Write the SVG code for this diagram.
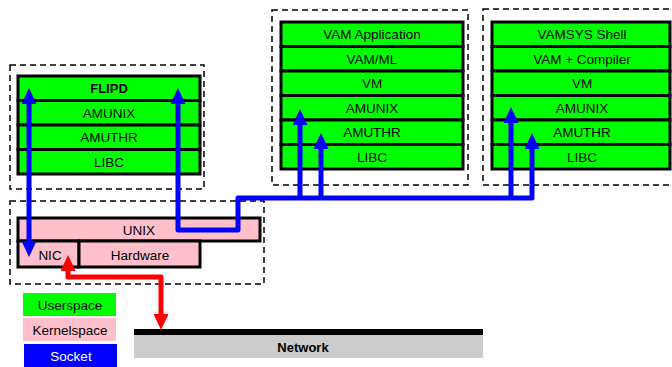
<svg xmlns="http://www.w3.org/2000/svg" width="672" height="367" viewBox="0 0 672 367">
<style>
.dash{fill:none;stroke:#000;stroke-width:1.5;stroke-dasharray:6,4}
.u{fill:#00ff00;stroke:#000;stroke-width:3}
.k{fill:#ffc0cb;stroke:#000;stroke-width:3}
text{font-family:"Liberation Sans",Arial,sans-serif;font-size:13.5px;text-anchor:middle;fill:#000}
.b{font-weight:bold;font-size:13px}
.sock{fill:none;stroke:#0000ff;stroke-width:5;stroke-linejoin:round}
.red{fill:none;stroke:#ff0000;stroke-width:5;stroke-linejoin:round}
</style>
<defs>
<marker id="ab" markerUnits="userSpaceOnUse" markerWidth="16" markerHeight="15" viewBox="0 0 16 15" refX="0" refY="7.5" orient="auto-start-reverse"><path d="M0,0 L16,7.5 L0,15 z" fill="#0000ff"/></marker>
<marker id="ar" markerUnits="userSpaceOnUse" markerWidth="16" markerHeight="15" viewBox="0 0 16 15" refX="0" refY="7.5" orient="auto-start-reverse"><path d="M0,0 L16,7.5 L0,15 z" fill="#ff0000"/></marker>
</defs>
<g id="frames">
<rect class="dash" x="10" y="65" width="194" height="124"/>
<rect class="dash" x="272" y="10" width="196" height="175"/>
<rect class="dash" x="483" y="9" width="200" height="176"/>
<rect class="dash" x="10" y="201" width="254" height="83"/>
</g>
<g id="flipd">
<rect class="u" x="18" y="76" width="182" height="24.5"/><text class="b" x="109" y="93">FLIPD</text>
<rect class="u" x="18" y="100.5" width="182" height="24.5"/><text x="109" y="117.5">AMUNIX</text>
<rect class="u" x="18" y="125" width="182" height="24.5"/><text x="109" y="142">AMUTHR</text>
<rect class="u" x="18" y="149.5" width="182" height="24.5"/><text x="109" y="166.5">LIBC</text>
</g>
<g id="vamapp">
<rect class="u" x="281" y="22" width="182" height="24.5"/><text x="372" y="39">VAM Application</text>
<rect class="u" x="281" y="46.5" width="182" height="24.5"/><text x="372" y="63.5">VAM/ML</text>
<rect class="u" x="281" y="71" width="182" height="24.5"/><text x="372" y="88">VM</text>
<rect class="u" x="281" y="95.5" width="182" height="24.5"/><text x="372" y="112.5">AMUNIX</text>
<rect class="u" x="281" y="120" width="182" height="24.5"/><text x="372" y="137">AMUTHR</text>
<rect class="u" x="281" y="144.5" width="182" height="24.5"/><text x="372" y="161.5">LIBC</text>
</g>
<g id="vamsys">
<rect class="u" x="492" y="22" width="178" height="24.5"/><text x="582" y="39">VAMSYS Shell</text>
<rect class="u" x="492" y="46.5" width="178" height="24.5"/><text x="582" y="63.5">VAM + Compiler</text>
<rect class="u" x="492" y="71" width="178" height="24.5"/><text x="582" y="88">VM</text>
<rect class="u" x="492" y="95.5" width="178" height="24.5"/><text x="582" y="112.5">AMUNIX</text>
<rect class="u" x="492" y="120" width="178" height="24.5"/><text x="582" y="137">AMUTHR</text>
<rect class="u" x="492" y="144.5" width="178" height="24.5"/><text x="582" y="161.5">LIBC</text>
</g>
<g id="kernel">
<rect class="k" x="18" y="218" width="242" height="23"/><text x="139" y="234.5">UNIX</text>
<rect class="k" x="18" y="241" width="61" height="26"/><text x="50" y="259.5">NIC</text>
<rect class="k" x="79" y="241" width="121" height="26"/><text x="140" y="259.5">Hardware</text>
</g>
<g id="network">
<rect x="134" y="335" width="349" height="23" fill="#cccccc"/>
<rect x="134" y="329" width="349" height="6" fill="#000"/>
<text class="b" x="303" y="351.5">Network</text>
</g>
<g id="legend">
<rect x="23" y="293" width="93" height="23" fill="#00ff00"/><text x="70" y="309.5">Userspace</text>
<rect x="23" y="318" width="93" height="23" fill="#ffc0cb"/><text x="70" y="334.5">Kernelspace</text>
<rect x="24" y="344" width="93" height="23" fill="#0000ff"/><text x="71" y="360.5" style="fill:#fff">Socket</text>
</g>
<g id="connectors">
<path class="sock" d="M29,104 V241" marker-start="url(#ab)" marker-end="url(#ab)"/>
<path class="sock" d="M178,104 V230 H238 V198 H532 V149" marker-start="url(#ab)" marker-end="url(#ab)"/>
<path class="sock" d="M300,198 V125" marker-end="url(#ab)"/>
<path class="sock" d="M321,198 V149" marker-end="url(#ab)"/>
<path class="sock" d="M511,198 V123" marker-end="url(#ab)"/>
<path class="red" d="M68,271 V277 H161 V314" marker-start="url(#ar)" marker-end="url(#ar)"/>
</g>
</svg>
